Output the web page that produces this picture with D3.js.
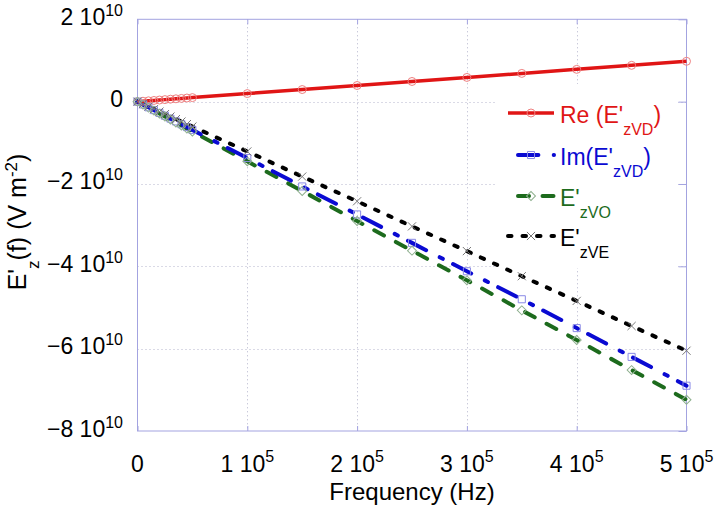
<!DOCTYPE html>
<html><head><meta charset="utf-8">
<script src="https://cdn.jsdelivr.net/npm/d3@7"></script>
<style>
body{margin:0;background:#fff}
svg{display:block;font-family:"Liberation Sans",Arial,Helvetica,sans-serif}
</style>
</head><body>
<svg id="chart" width="714" height="513"></svg>
<script>
// Frequency (Hz)
const freq = [0,5000,10000,15000,20000,25000,30000,35000,40000,45000,50000,
  100000,150000,200000,250000,300000,350000,400000,450000,500000];
// Field values in units of 1e10 V m^-2
const reVD = [0,0.010,0.020,0.029,0.039,0.049,0.059,0.069,0.078,0.088,0.098,
  0.196,0.294,0.392,0.490,0.588,0.686,0.784,0.882,0.980];
const imVD = [0,-0.069,-0.137,-0.206,-0.274,-0.343,-0.412,-0.480,-0.549,-0.618,-0.686,
  -1.37,-2.06,-2.74,-3.43,-4.12,-4.80,-5.50,-6.20,-6.90];
const eVO = [0,-0.072,-0.145,-0.217,-0.290,-0.362,-0.434,-0.507,-0.579,-0.652,-0.724,
  -1.45,-2.17,-2.90,-3.62,-4.34,-5.07,-5.79,-6.52,-7.24];
const eVE = [0,-0.060,-0.121,-0.182,-0.242,-0.303,-0.363,-0.424,-0.484,-0.545,-0.605,
  -1.21,-1.82,-2.42,-3.03,-3.63,-4.24,-4.84,-5.45,-6.05];

const xTicks = [0,100000,200000,300000,400000,500000];
const xTickBase = ["0","1 10","2 10","3 10","4 10","5 10"];
const xTickExp  = ["","5","5","5","5","5"];
const yTicks = [2,0,-2,-4,-6,-8];
const yTickBase = ["2 10","0","\u22122 10","\u22124 10","\u22126 10","\u22128 10"];
const yTickExp  = ["10","","10","10","10","10"];
const xGrid = [100000,200000,300000,400000];
const yGrid = [0,-2,-4,-6];

const legendMain = ["Re (E'","Im(E'","E'","E'"];
const legendSub  = ["zVD","zVD","zVO","zVE"];
const legendTail = [")",")","",""];

const svg = d3.select("#chart");
const L = 137.5, R = 686.5, T = 19.3, B = 431;
const x = d3.scaleLinear().domain([0,500000]).range([L,R]);
const y = d3.scaleLinear().domain([-8,2]).range([B,T]);
const frameColor = "#a3a3e0";

// grid
const grid = svg.append("g").attr("stroke","#b4b4cc").attr("stroke-width",1).attr("stroke-dasharray","1,3");
grid.selectAll("line.h").data(yGrid).join("line").attr("class","h")
  .attr("x1",L).attr("x2",R).attr("y1",d=>Math.round(y(d))+0.5).attr("y2",d=>Math.round(y(d))+0.5);
grid.selectAll("line.v").data(xGrid).join("line").attr("class","v")
  .attr("y1",T).attr("y2",B).attr("x1",d=>Math.round(x(d))+0.5).attr("x2",d=>Math.round(x(d))+0.5);

// axes ticks (inward)
const axB = d3.axisBottom(x).tickValues(xTicks).tickSize(-5).tickFormat("");
const axT = d3.axisTop(x).tickValues(xTicks).tickSize(-5).tickFormat("");
const axR = d3.axisRight(y).tickValues(yTicks).tickSize(-8).tickFormat("");
const gB = svg.append("g").attr("transform",`translate(0,${B})`).call(axB);
const gT = svg.append("g").attr("transform",`translate(0,${T})`).call(axT);
const gR = svg.append("g").attr("transform",`translate(${R},0)`).call(axR);
[gB,gT,gR].forEach(g=>{g.select(".domain").remove(); g.selectAll("line").attr("stroke",frameColor);});

// legend background
svg.append("rect").attr("x",496).attr("y",84).attr("width",182).attr("height",184).attr("fill","#fff");

// frame
svg.append("rect").attr("x",L).attr("y",T).attr("width",R-L).attr("height",B-T)
  .attr("fill","none").attr("stroke",frameColor).attr("stroke-width",1);

const series = [
  {vals:reVD, color:"#e01515", width:3.5, dash:null, marker:"circle", mcolor:"#ef8080"},
  {vals:imVD, color:"#0a0ad2", width:4, dash:"20.4,15.3,3.5,11.5", marker:"square", mcolor:"#8a8ae6"},
  {vals:eVO, color:"#1d6b1d", width:4, dash:"11,13.5", marker:"diamond", mcolor:"#8fb08f"},
  {vals:eVE, color:"#000000", width:4, dash:"3.5,11", marker:"cross", mcolor:"#777777"}
];

const line = d3.line().x((d,i)=>x(freq[i])).y(d=>y(d));
const symbolPath = {
  circle: d3.symbol(d3.symbolCircle, 50),
  square: d3.symbol(d3.symbolSquare, 50),
  diamond: d3.symbol(d3.symbolSquare, 40),
  cross: d3.symbol(d3.symbolX, 45)
};
function drawMarker(g, s, cx, cy){
  return g.append("path").attr("d", symbolPath[s.marker]())
    .attr("fill","none").attr("stroke",s.mcolor).attr("stroke-width",1)
    .attr("transform",`translate(${cx},${cy})` + (s.marker==="diamond"?" rotate(45)":""));
}

const plot = svg.append("g");
series.slice().reverse().forEach(s=>{
  plot.append("path").datum(s.vals).attr("d",line).attr("fill","none")
    .attr("stroke",s.color).attr("stroke-width",s.width)
    .attr("stroke-linecap", s.dash? "round":"butt")
    .attr("stroke-dasharray", s.dash);
});
series.forEach(s=>{
  const mg = plot.append("g");
  s.vals.forEach((v,i)=>drawMarker(mg, s, x(freq[i]), y(v)));
});

// tick labels
const fs = 23;
const xl = svg.append("g").attr("font-size",fs).attr("text-anchor","middle");
xTicks.forEach((t,i)=>{
  const tx = xl.append("text").attr("x",x(t)).attr("y",472);
  tx.append("tspan").text(xTickBase[i]);
  if(xTickExp[i]) tx.append("tspan").attr("dy",-10).attr("font-size",16).text(xTickExp[i]);
});
const yl = svg.append("g").attr("font-size",fs).attr("text-anchor","end");
yTicks.forEach((t,i)=>{
  const tx = yl.append("text").attr("x",123).attr("y",y(t)+5.5);
  tx.append("tspan").text(yTickBase[i]);
  if(yTickExp[i]) tx.append("tspan").attr("dy",-9).attr("font-size",16).text(yTickExp[i]);
});

// axis titles
svg.append("text").attr("x",(L+R)/2).attr("y",500).attr("text-anchor","middle")
  .attr("font-size",24).text("Frequency (Hz)");
const yt = svg.append("text").attr("transform","translate(26,222) rotate(-90)")
  .attr("text-anchor","middle").attr("font-size",25);
yt.append("tspan").text("E'");
yt.append("tspan").attr("dy",13).attr("font-size",17).text("z");
yt.append("tspan").attr("dy",-13).text("(f) (V m");
yt.append("tspan").attr("dy",-9).attr("font-size",17).text("-2");
yt.append("tspan").attr("dy",9).text(")");

// legend
const legY = [113,155,196,236];
const legX1 = [508,518,518,508];
const lg = svg.append("g");
series.forEach((s,i)=>{
  lg.append("line").attr("x1",legX1[i]).attr("x2",554).attr("y1",legY[i]).attr("y2",legY[i])
    .attr("stroke",s.color).attr("stroke-width",s.width)
    .attr("stroke-linecap", s.dash? "round":"butt")
    .attr("stroke-dasharray", s.dash);
  drawMarker(lg, s, 531, legY[i]);
  const tx = lg.append("text").attr("x",560).attr("y",legY[i]+10).attr("font-size",23).attr("fill",s.color);
  tx.append("tspan").text(legendMain[i]);
  tx.append("tspan").attr("dy",12).attr("font-size",16).text(legendSub[i]);
  if(legendTail[i]) tx.append("tspan").attr("dy",-12).text(legendTail[i]);
});
</script>
</body></html>
